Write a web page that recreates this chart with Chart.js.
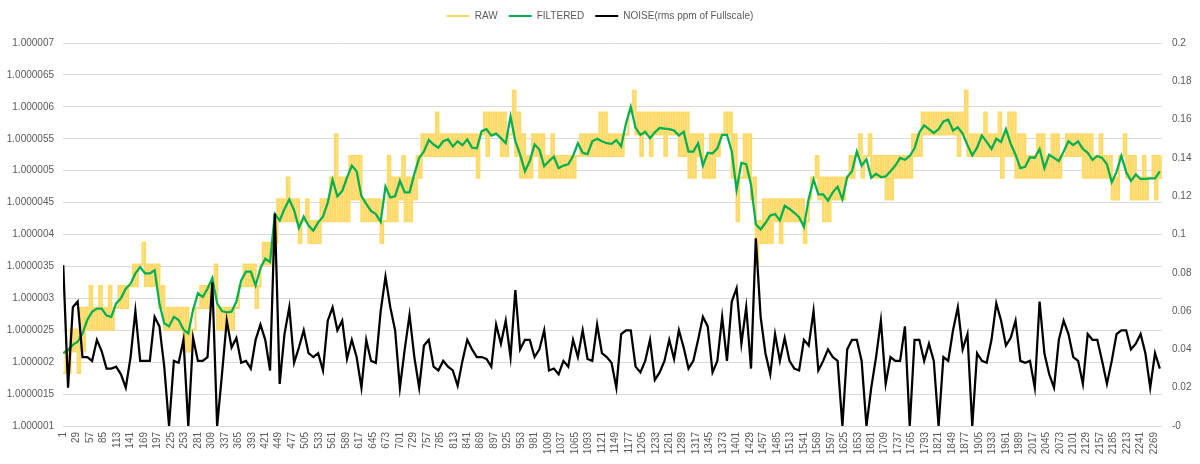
<!DOCTYPE html>
<html>
<head>
<meta charset="utf-8">
<script src="https://cdn.jsdelivr.net/npm/chart.js@4.4.0/dist/chart.umd.min.js"></script>
<style>
  html, body { margin: 0; padding: 0; background: #fff; }
</style>
</head>
<body>
<canvas id="grafico" width="1200" height="464"></canvas>
<script>
// leituras amostradas a cada 10 pontos
const sampleX = [];
for (let i = 1; i <= 2281; i += 10) sampleX.push(i);

// rótulos do eixo X (a cada 28 leituras)
const xTicks = [];
for (let v = 1; v <= 2269; v += 28) xTicks.push(v);

// valores em ppm acima de 1.0
const filtered = [
  2.14, 2.19, 2.27, 2.32, 2.45, 2.66, 2.79, 2.84, 2.84, 2.73,
  2.71, 2.92, 3.00, 3.15, 3.23, 3.39, 3.49, 3.39, 3.39, 3.44,
  2.92, 2.61, 2.56, 2.71, 2.66, 2.51, 2.45, 2.82, 3.08,
  3.02, 3.15, 3.32, 2.92, 2.80, 2.78, 2.79, 2.95, 3.28, 3.42,
  3.42, 3.20, 3.47, 3.62, 3.57, 4.32, 4.22, 4.40, 4.55, 4.38,
  4.10, 4.28, 4.14, 4.06, 4.19, 4.28, 4.50, 4.86,
  4.60, 4.68, 4.89, 5.08, 4.99, 4.60, 4.48, 4.37, 4.32, 4.20,
  4.75, 4.58, 4.60, 4.84, 4.66, 4.66, 4.95, 5.20, 5.30, 5.48,
  5.41, 5.36, 5.46, 5.49, 5.38, 5.46, 5.40, 5.49,
  5.36, 5.35, 5.62, 5.65, 5.55, 5.58, 5.51, 5.43, 5.85, 5.46,
  5.25, 4.99, 5.15, 5.41, 5.33, 5.07, 5.15, 5.22, 5.04, 5.08,
  5.10, 5.23, 5.43, 5.28, 5.26, 5.46, 5.50, 5.46,
  5.43, 5.42, 5.48, 5.38, 5.74, 6.00, 5.67, 5.56, 5.61, 5.51,
  5.60, 5.67, 5.66, 5.65, 5.63, 5.55, 5.61, 5.30, 5.30, 5.43,
  5.08, 5.28, 5.27, 5.35, 5.56, 5.56, 5.30, 4.70,
  5.12, 5.10, 4.78, 4.16, 4.08, 4.18, 4.30, 4.32, 4.22, 4.45,
  4.40, 4.34, 4.27, 4.12, 4.56, 4.86, 4.63, 4.63, 4.53, 4.66,
  4.75, 4.55, 4.90, 4.99, 5.30, 5.08, 5.18, 4.89,
  4.95, 4.90, 4.91, 4.99, 5.08, 5.20, 5.17, 5.23, 5.35, 5.60,
  5.71, 5.65, 5.59, 5.65, 5.77, 5.80, 5.63, 5.68, 5.58, 5.40,
  5.24, 5.36, 5.55, 5.45, 5.34, 5.50, 5.45, 5.65,
  5.42, 5.25, 5.04, 5.06, 5.21, 5.20, 5.34, 5.04, 5.25, 5.20,
  5.15, 5.30, 5.46, 5.40, 5.46, 5.34, 5.28, 5.17, 5.23, 5.20,
  5.10, 4.82, 4.98, 5.23, 4.98, 4.84, 4.94, 4.87, 4.87, 4.88,
  4.88, 4.99
];

// faixa do sinal bruto (mínimo e máximo em cada trecho), ppm acima de 1.0
const rawLow = [
  1.83, 1.83, 2.17, 1.83, 2.17, 2.51, 2.51, 2.51, 2.51, 2.51,
  2.51, 2.85, 2.85, 2.85, 3.19, 3.19, 3.53, 3.19, 3.19, 3.19,
  2.85, 2.51, 2.51, 2.51, 2.51, 2.17, 2.17, 2.51, 2.85,
  2.85, 2.85, 3.19, 2.51, 2.51, 2.51, 2.51, 2.85, 3.19, 3.19,
  3.19, 2.85, 3.53, 3.53, 3.53, 3.87, 4.21, 4.21, 4.21, 4.21,
  3.87, 4.21, 3.87, 3.87, 3.87, 4.21, 4.21, 4.21,
  4.21, 4.21, 4.21, 4.55, 4.55, 4.21, 4.21, 4.21, 4.21, 3.87,
  4.21, 4.21, 4.21, 4.55, 4.21, 4.21, 4.55, 4.89, 5.23, 5.23,
  5.23, 5.23, 5.23, 5.23, 5.23, 5.23, 5.23, 5.23,
  5.23, 4.89, 5.57, 5.23, 5.57, 5.57, 5.23, 5.23, 5.57, 5.23,
  4.89, 4.89, 4.89, 5.23, 4.89, 4.89, 4.89, 4.89, 4.89, 4.89,
  4.89, 4.89, 5.23, 5.23, 5.23, 5.23, 5.23, 5.23,
  5.23, 5.23, 5.23, 5.23, 5.57, 5.91, 5.57, 5.23, 5.57, 5.23,
  5.57, 5.57, 5.23, 5.57, 5.57, 5.23, 5.23, 4.89, 4.89, 5.23,
  4.89, 4.89, 4.89, 5.23, 5.57, 5.57, 4.89, 4.21,
  4.89, 4.89, 4.55, 3.53, 3.87, 3.87, 3.87, 4.21, 3.87, 4.21,
  4.21, 4.21, 4.21, 3.87, 4.55, 4.89, 4.55, 4.21, 4.21, 4.55,
  4.55, 4.55, 4.89, 4.89, 5.23, 4.89, 5.23, 4.89,
  4.89, 4.89, 4.55, 4.55, 4.89, 4.89, 4.89, 4.89, 5.23, 5.23,
  5.57, 5.57, 5.57, 5.57, 5.57, 5.57, 5.57, 5.23, 5.57, 5.23,
  5.23, 5.23, 5.23, 5.23, 5.23, 5.23, 4.89, 5.23,
  5.23, 4.89, 4.89, 4.89, 4.89, 4.89, 4.89, 4.89, 4.89, 4.89,
  4.89, 5.23, 5.23, 5.23, 5.23, 4.89, 4.89, 4.89, 4.89, 4.89,
  4.89, 4.55, 4.55, 5.23, 4.89, 4.55, 4.55, 4.55, 4.55, 4.89,
  4.55, 4.89
];
const rawHigh = [
  2.17, 2.51, 2.51, 2.85, 2.85, 3.19, 2.85, 3.19, 2.85, 3.19,
  2.85, 3.19, 3.19, 3.19, 3.53, 3.53, 3.87, 3.53, 3.53, 3.53,
  3.19, 2.85, 2.85, 2.85, 2.85, 2.85, 2.51, 2.85, 3.19,
  3.19, 3.19, 3.53, 2.85, 2.85, 2.85, 2.85, 3.19, 3.53, 3.53,
  3.53, 3.19, 3.87, 3.87, 3.87, 4.55, 4.55, 4.89, 4.55, 4.55,
  4.21, 4.55, 4.21, 4.21, 4.55, 4.55, 4.89, 5.57,
  4.89, 4.89, 5.23, 5.23, 5.23, 4.55, 4.55, 4.55, 4.55, 4.21,
  5.23, 4.89, 4.89, 5.23, 4.89, 4.89, 5.23, 5.57, 5.57, 5.57,
  5.91, 5.57, 5.57, 5.57, 5.57, 5.57, 5.57, 5.57,
  5.57, 5.57, 5.91, 5.91, 5.91, 5.91, 5.91, 5.57, 6.25, 5.91,
  5.57, 5.23, 5.57, 5.57, 5.57, 5.23, 5.57, 5.23, 5.23, 5.23,
  5.23, 5.23, 5.57, 5.57, 5.57, 5.57, 5.91, 5.91,
  5.57, 5.57, 5.57, 5.57, 5.91, 6.25, 5.91, 5.91, 5.91, 5.91,
  5.91, 5.91, 5.91, 5.91, 5.91, 5.91, 5.91, 5.57, 5.57, 5.57,
  5.23, 5.57, 5.57, 5.57, 5.91, 5.91, 5.57, 4.89,
  5.57, 5.57, 4.89, 4.21, 4.55, 4.55, 4.55, 4.55, 4.55, 4.55,
  4.55, 4.55, 4.55, 4.21, 4.89, 5.23, 4.89, 4.89, 4.89, 4.89,
  4.89, 4.89, 5.23, 5.23, 5.57, 5.23, 5.57, 5.23,
  5.23, 5.23, 5.23, 5.23, 5.23, 5.23, 5.23, 5.57, 5.57, 5.91,
  5.91, 5.91, 5.91, 5.91, 5.91, 5.91, 5.91, 5.91, 6.25, 5.57,
  5.57, 5.57, 5.91, 5.57, 5.57, 5.91, 5.57, 5.91,
  5.91, 5.57, 5.57, 5.23, 5.23, 5.57, 5.57, 5.23, 5.57, 5.57,
  5.23, 5.57, 5.57, 5.57, 5.57, 5.57, 5.57, 5.23, 5.57, 5.23,
  5.23, 4.89, 5.23, 5.57, 5.23, 5.23, 4.89, 5.23, 4.89, 5.23,
  5.23, 5.23
];

// ruído rms (ppm do fundo de escala), eixo da direita
const noise = [
  0.084, 0.020, 0.062, 0.065, 0.036, 0.036, 0.034, 0.045, 0.039, 0.030,
  0.030, 0.031, 0.027, 0.020, 0.036, 0.060, 0.034, 0.034, 0.034, 0.057,
  0.052, 0.031, 0.0, 0.034, 0.033, 0.045, 0.0, 0.046, 0.034,
  0.034, 0.036, 0.075, 0.0, 0.027, 0.055, 0.041, 0.046, 0.033, 0.034,
  0.030, 0.045, 0.053, 0.045, 0.029, 0.111, 0.022, 0.048, 0.062, 0.033,
  0.041, 0.050, 0.038, 0.036, 0.038, 0.029, 0.055, 0.062,
  0.050, 0.055, 0.035, 0.045, 0.036, 0.020, 0.045, 0.034, 0.033, 0.060,
  0.078, 0.062, 0.050, 0.020, 0.040, 0.058, 0.036, 0.020, 0.042, 0.045,
  0.031, 0.029, 0.034, 0.031, 0.029, 0.021, 0.034, 0.045,
  0.040, 0.036, 0.036, 0.035, 0.031, 0.053, 0.043, 0.055, 0.036, 0.071,
  0.040, 0.045, 0.045, 0.036, 0.040, 0.050, 0.029, 0.030, 0.027, 0.034,
  0.031, 0.045, 0.036, 0.050, 0.035, 0.034, 0.053, 0.038,
  0.036, 0.033, 0.020, 0.048, 0.050, 0.050, 0.031, 0.028, 0.034, 0.045,
  0.024, 0.028, 0.034, 0.045, 0.035, 0.050, 0.041, 0.030, 0.034, 0.045,
  0.057, 0.052, 0.028, 0.034, 0.057, 0.034, 0.065, 0.072,
  0.043, 0.062, 0.030, 0.098, 0.057, 0.038, 0.027, 0.048, 0.034, 0.046,
  0.034, 0.030, 0.029, 0.045, 0.042, 0.060, 0.029, 0.034, 0.040, 0.036,
  0.034, 0.0, 0.040, 0.045, 0.045, 0.034, 0.0, 0.020,
  0.036, 0.055, 0.022, 0.036, 0.034, 0.034, 0.052, 0.0, 0.045, 0.045,
  0.034, 0.043, 0.034, 0.0, 0.036, 0.034, 0.050, 0.062, 0.040, 0.048,
  0.0, 0.038, 0.034, 0.033, 0.045, 0.064, 0.055, 0.042,
  0.046, 0.055, 0.034, 0.033, 0.034, 0.020, 0.065, 0.038, 0.027, 0.020,
  0.045, 0.055, 0.048, 0.036, 0.034, 0.022, 0.048, 0.045, 0.045, 0.034,
  0.022, 0.034, 0.048, 0.050, 0.050, 0.040, 0.043, 0.048, 0.038, 0.020,
  0.038, 0.030
];

const fonte = { family: "'Liberation Sans', Arial, sans-serif", size: 10 };
const corTexto = "#595959";

// bruto: alterna entre o mínimo e o máximo da faixa
const rawPoints = [];
sampleX.forEach((x, i) => {
  rawPoints.push({ x: x, y: rawLow[i] });
  rawPoints.push({ x: x + 5, y: rawHigh[i] });
});

// espaço extra abaixo da legenda
const legendGap = {
  id: "legendGap",
  beforeInit(chart) {
    const fitOriginal = chart.legend.fit;
    chart.legend.fit = function () {
      fitOriginal.call(this);
      this.height += 12;
    };
  },
};

const ctx = document.getElementById("grafico").getContext("2d");
const chart = new Chart(ctx, {
  type: "line",
  data: {
    datasets: [
      {
        label: "RAW",
        data: rawPoints,
        borderColor: "#FFD966",
        backgroundColor: "#FFD966",
        borderWidth: 2.2,
        stepped: true,
        pointRadius: 0,
        yAxisID: "y",
        order: 3,
      },
      {
        label: "FILTERED",
        data: sampleX.map((x, i) => ({ x: x, y: filtered[i] })),
        borderColor: "#00B050",
        backgroundColor: "#00B050",
        borderWidth: 2.25,
        pointRadius: 0,
        yAxisID: "y",
        order: 2,
      },
      {
        label: "NOISE(rms ppm of Fullscale)",
        data: sampleX.map((x, i) => ({ x: x, y: noise[i] })),
        borderColor: "#000000",
        backgroundColor: "#000000",
        borderWidth: 2.25,
        pointRadius: 0,
        yAxisID: "y2",
        order: 1,
      },
    ],
  },
  options: {
    responsive: false,
    animation: false,
    layout: { padding: { top: 0, left: 0, right: 0, bottom: 0 } },
    plugins: {
      tooltip: { enabled: false },
      legend: {
        position: "top",
        labels: {
          font: fonte,
          color: corTexto,
          boxWidth: 23,
          boxHeight: 2,
          padding: 11,
          sort: (a, b) => a.datasetIndex - b.datasetIndex,
          generateLabels: (c) =>
            Chart.defaults.plugins.legend.labels.generateLabels(c).map((item) => {
              item.lineWidth = 0;
              item.fillStyle = item.strokeStyle;
              return item;
            }),
        },
      },
    },
    scales: {
      x: {
        type: "linear",
        min: 0.5,
        max: 2285.5,
        afterBuildTicks: (s) => {
          s.ticks = xTicks.map((v) => ({ value: v }));
        },
        afterFit: (s) => {
          s.height = 38;
        },
        ticks: {
          autoSkip: false,
          minRotation: 90,
          maxRotation: 90,
          padding: 6,
          font: fonte,
          color: corTexto,
          callback: (v) => String(v),
        },
        grid: { display: false, drawTicks: false },
        border: { display: false },
      },
      y: {
        type: "linear",
        position: "left",
        min: 1,
        max: 7,
        afterFit: (s) => {
          s.width = 63;
        },
        ticks: {
          stepSize: 0.5,
          padding: 9,
          font: fonte,
          color: corTexto,
          callback: (v) => parseFloat((1 + v / 1e6).toFixed(7)).toString(),
        },
        grid: { color: "#d9d9d9", lineWidth: 1, drawTicks: false },
        border: { display: false },
      },
      y2: {
        type: "linear",
        position: "right",
        min: 0,
        max: 0.2,
        afterFit: (s) => {
          s.width = 38;
        },
        ticks: {
          stepSize: 0.02,
          padding: 10,
          font: fonte,
          color: corTexto,
          callback: (v) => (v === 0 ? "-0" : parseFloat(v.toFixed(2)).toString()),
        },
        grid: { drawOnChartArea: false, drawTicks: false },
        border: { display: false },
      },
    },
  },
  plugins: [legendGap],
});
</script>
</body>
</html>
